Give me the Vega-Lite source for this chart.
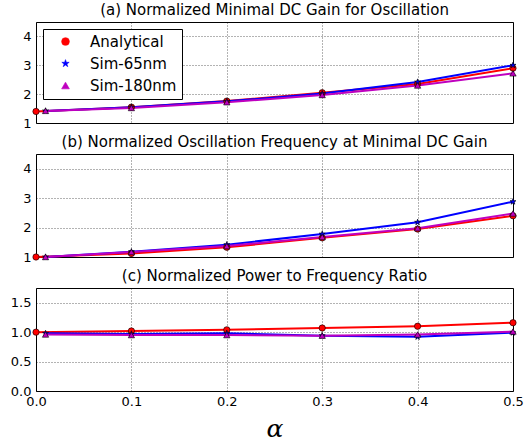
{
  "$schema": "https://vega.github.io/schema/vega-lite/v6.json",
  "padding": {"left": 5, "top": 2, "right": 20, "bottom": 0},
  "spacing": 3,
  "config": {
    "font": "DejaVu Sans",
    "view": {"stroke": "#000", "strokeWidth": 1},
    "axis": {"domain": false, "grid": true, "gridColor": "#000", "gridOpacity": 0.6, "gridDash": [1, 2], "labelFontSize": 13, "labelColor": "#000", "ticks": false, "labelPadding": 5, "labelFont": "DejaVu Sans", "labelFlush": false},
    "title": {"fontSize": 15, "fontWeight": "normal", "font": "DejaVu Sans", "color": "#000", "offset": 4},
    "concat": {"spacing": 3}
  },
  "datasets": {
    "d": [
      {"panel": "a", "series": "Analytical", "alpha": 0.0, "value": 1.4},
      {"panel": "a", "series": "Analytical", "alpha": 0.1, "value": 1.55},
      {"panel": "a", "series": "Analytical", "alpha": 0.2, "value": 1.76},
      {"panel": "a", "series": "Analytical", "alpha": 0.3, "value": 2.05},
      {"panel": "a", "series": "Analytical", "alpha": 0.4, "value": 2.35},
      {"panel": "a", "series": "Analytical", "alpha": 0.5, "value": 2.9},
      {"panel": "a", "series": "Sim-65nm", "alpha": 0.01, "value": 1.42},
      {"panel": "a", "series": "Sim-65nm", "alpha": 0.1, "value": 1.55},
      {"panel": "a", "series": "Sim-65nm", "alpha": 0.2, "value": 1.75},
      {"panel": "a", "series": "Sim-65nm", "alpha": 0.3, "value": 2.02},
      {"panel": "a", "series": "Sim-65nm", "alpha": 0.4, "value": 2.42},
      {"panel": "a", "series": "Sim-65nm", "alpha": 0.5, "value": 3.0},
      {"panel": "a", "series": "Sim-180nm", "alpha": 0.01, "value": 1.42},
      {"panel": "a", "series": "Sim-180nm", "alpha": 0.1, "value": 1.52},
      {"panel": "a", "series": "Sim-180nm", "alpha": 0.2, "value": 1.72},
      {"panel": "a", "series": "Sim-180nm", "alpha": 0.3, "value": 1.97},
      {"panel": "a", "series": "Sim-180nm", "alpha": 0.4, "value": 2.3},
      {"panel": "a", "series": "Sim-180nm", "alpha": 0.5, "value": 2.72},
      {"panel": "b", "series": "Analytical", "alpha": 0.0, "value": 1.0},
      {"panel": "b", "series": "Analytical", "alpha": 0.1, "value": 1.12},
      {"panel": "b", "series": "Analytical", "alpha": 0.2, "value": 1.33},
      {"panel": "b", "series": "Analytical", "alpha": 0.3, "value": 1.65},
      {"panel": "b", "series": "Analytical", "alpha": 0.4, "value": 1.95},
      {"panel": "b", "series": "Analytical", "alpha": 0.5, "value": 2.4},
      {"panel": "b", "series": "Sim-65nm", "alpha": 0.01, "value": 1.0},
      {"panel": "b", "series": "Sim-65nm", "alpha": 0.1, "value": 1.18},
      {"panel": "b", "series": "Sim-65nm", "alpha": 0.2, "value": 1.42},
      {"panel": "b", "series": "Sim-65nm", "alpha": 0.3, "value": 1.78},
      {"panel": "b", "series": "Sim-65nm", "alpha": 0.4, "value": 2.18},
      {"panel": "b", "series": "Sim-65nm", "alpha": 0.5, "value": 2.88},
      {"panel": "b", "series": "Sim-180nm", "alpha": 0.01, "value": 1.0},
      {"panel": "b", "series": "Sim-180nm", "alpha": 0.1, "value": 1.17},
      {"panel": "b", "series": "Sim-180nm", "alpha": 0.2, "value": 1.37},
      {"panel": "b", "series": "Sim-180nm", "alpha": 0.3, "value": 1.68},
      {"panel": "b", "series": "Sim-180nm", "alpha": 0.4, "value": 1.98},
      {"panel": "b", "series": "Sim-180nm", "alpha": 0.5, "value": 2.48},
      {"panel": "c", "series": "Analytical", "alpha": 0.0, "value": 1.0},
      {"panel": "c", "series": "Analytical", "alpha": 0.1, "value": 1.02},
      {"panel": "c", "series": "Analytical", "alpha": 0.2, "value": 1.04},
      {"panel": "c", "series": "Analytical", "alpha": 0.3, "value": 1.07},
      {"panel": "c", "series": "Analytical", "alpha": 0.4, "value": 1.1},
      {"panel": "c", "series": "Analytical", "alpha": 0.5, "value": 1.16},
      {"panel": "c", "series": "Sim-65nm", "alpha": 0.01, "value": 0.98},
      {"panel": "c", "series": "Sim-65nm", "alpha": 0.1, "value": 0.97},
      {"panel": "c", "series": "Sim-65nm", "alpha": 0.2, "value": 0.98},
      {"panel": "c", "series": "Sim-65nm", "alpha": 0.3, "value": 0.94},
      {"panel": "c", "series": "Sim-65nm", "alpha": 0.4, "value": 0.92},
      {"panel": "c", "series": "Sim-65nm", "alpha": 0.5, "value": 0.99},
      {"panel": "c", "series": "Sim-180nm", "alpha": 0.01, "value": 0.96},
      {"panel": "c", "series": "Sim-180nm", "alpha": 0.1, "value": 0.95},
      {"panel": "c", "series": "Sim-180nm", "alpha": 0.2, "value": 0.95},
      {"panel": "c", "series": "Sim-180nm", "alpha": 0.3, "value": 0.94},
      {"panel": "c", "series": "Sim-180nm", "alpha": 0.4, "value": 0.96},
      {"panel": "c", "series": "Sim-180nm", "alpha": 0.5, "value": 1.01}
    ]
  },
  "vconcat": [
    {
      "title": "(a) Normalized Minimal DC Gain for Oscillation",
      "width": 477, "height": 101,
      "data": {"name": "d"},
      "transform": [{"filter": "datum.panel === 'a'"}],
      "encoding": {
        "x": {"field": "alpha", "type": "quantitative", "scale": {"domain": [0, 0.5]}, "axis": {"labels": false, "title": null, "values": [0, 0.1, 0.2, 0.3, 0.4, 0.5]}},
        "y": {"field": "value", "type": "quantitative", "scale": {"domain": [1, 4.5]}, "axis": {"values": [1, 2, 3, 4], "title": null, "minExtent": 30, "maxExtent": 30}},
        "color": {"field": "series", "type": "nominal", "scale": {"domain": ["Analytical", "Sim-65nm", "Sim-180nm"], "range": ["#ff0000", "#0000ff", "#bf00bf"]}, "legend": {"title": null, "orient": "top-left", "offset": 7, "padding": 5, "strokeColor": "#000", "fillColor": "#fff", "labelFontSize": 15, "labelColor": "#000", "symbolSize": 60, "rowPadding": 6, "symbolOffset": 10, "labelOffset": 17, "symbolStrokeColor": "#000", "symbolStrokeWidth": 0.6}},
        "shape": {"field": "series", "type": "nominal", "scale": {"domain": ["Analytical", "Sim-65nm", "Sim-180nm"], "range": ["circle", "M0,-1L0.2245,-0.309L0.951,-0.309L0.363,0.118L0.588,0.809L0,0.382L-0.588,0.809L-0.363,0.118L-0.951,-0.309L-0.2245,-0.309Z", "triangle-up"]}, "legend": null}
      },
      "layer": [
        {"mark": {"type": "line", "strokeWidth": 2}},
        {"mark": {"type": "point", "filled": true, "size": 40, "stroke": "#000", "strokeWidth": 0.6, "opacity": 1}}
      ]
    },
    {
      "title": "(b) Normalized Oscillation Frequency at Minimal DC Gain",
      "width": 477, "height": 103,
      "data": {"name": "d"},
      "transform": [{"filter": "datum.panel === 'b'"}],
      "encoding": {
        "x": {"field": "alpha", "type": "quantitative", "scale": {"domain": [0, 0.5]}, "axis": {"labels": false, "title": null, "values": [0, 0.1, 0.2, 0.3, 0.4, 0.5]}},
        "y": {"field": "value", "type": "quantitative", "scale": {"domain": [1, 4.5]}, "axis": {"values": [1, 2, 3, 4], "title": null, "minExtent": 30, "maxExtent": 30}},
        "color": {"field": "series", "type": "nominal", "scale": {"domain": ["Analytical", "Sim-65nm", "Sim-180nm"], "range": ["#ff0000", "#0000ff", "#bf00bf"]}, "legend": null},
        "shape": {"field": "series", "type": "nominal", "scale": {"domain": ["Analytical", "Sim-65nm", "Sim-180nm"], "range": ["circle", "M0,-1L0.2245,-0.309L0.951,-0.309L0.363,0.118L0.588,0.809L0,0.382L-0.588,0.809L-0.363,0.118L-0.951,-0.309L-0.2245,-0.309Z", "triangle-up"]}, "legend": null}
      },
      "layer": [
        {"mark": {"type": "line", "strokeWidth": 2}},
        {"mark": {"type": "point", "filled": true, "size": 40, "stroke": "#000", "strokeWidth": 0.6, "opacity": 1}}
      ]
    },
    {
      "title": "(c) Normalized Power to Frequency Ratio",
      "width": 477, "height": 103,
      "data": {"name": "d"},
      "transform": [{"filter": "datum.panel === 'c'"}],
      "encoding": {
        "x": {"field": "alpha", "type": "quantitative", "scale": {"domain": [0, 0.5]}, "axis": {"format": ".1f", "values": [0, 0.1, 0.2, 0.3, 0.4, 0.5], "labelPadding": 4, "title": "α", "titleFont": "DejaVu Serif", "titleFontStyle": "italic", "titleFontWeight": "normal", "titleFontSize": 25, "titlePadding": 8, "titleColor": "#000"}},
        "y": {"field": "value", "type": "quantitative", "scale": {"domain": [0, 1.75]}, "axis": {"values": [0, 0.5, 1.0, 1.5], "format": ".1f", "title": null, "minExtent": 30, "maxExtent": 30}},
        "color": {"field": "series", "type": "nominal", "scale": {"domain": ["Analytical", "Sim-65nm", "Sim-180nm"], "range": ["#ff0000", "#0000ff", "#bf00bf"]}, "legend": null},
        "shape": {"field": "series", "type": "nominal", "scale": {"domain": ["Analytical", "Sim-65nm", "Sim-180nm"], "range": ["circle", "M0,-1L0.2245,-0.309L0.951,-0.309L0.363,0.118L0.588,0.809L0,0.382L-0.588,0.809L-0.363,0.118L-0.951,-0.309L-0.2245,-0.309Z", "triangle-up"]}, "legend": null}
      },
      "layer": [
        {"mark": {"type": "line", "strokeWidth": 2}},
        {"mark": {"type": "point", "filled": true, "size": 40, "stroke": "#000", "strokeWidth": 0.6, "opacity": 1}}
      ]
    }
  ]
}
